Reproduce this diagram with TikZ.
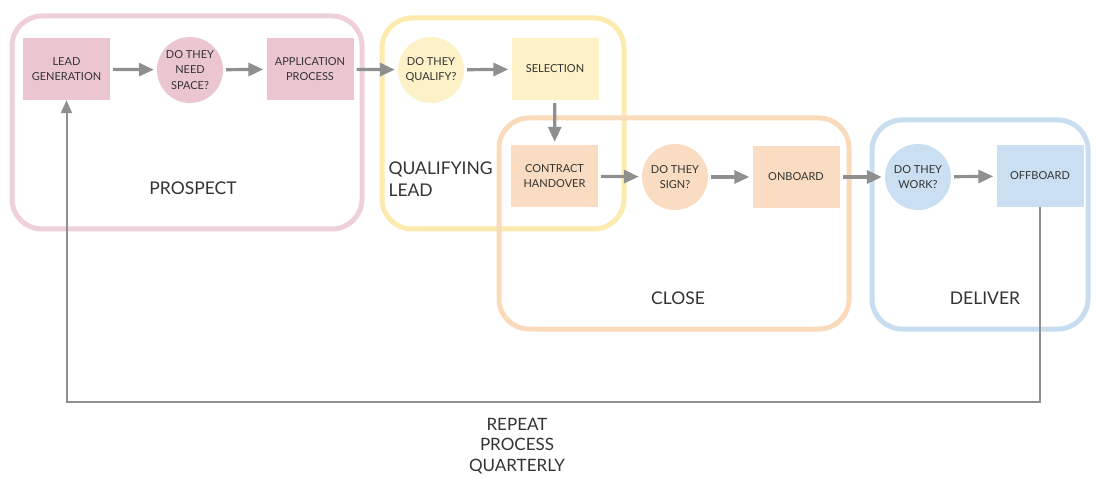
\documentclass[tikz,border=0pt]{standalone}
\usepackage{fontspec}
\setmainfont{Lato}
\usepackage{xcolor}
\usetikzlibrary{arrows.meta, positioning}
\definecolor{pinkfill}{HTML}{EBC6D1}
\definecolor{pinkline}{HTML}{EFD0D9}
\definecolor{yellowfill}{HTML}{FDF1C7}
\definecolor{yellowline}{HTML}{FCEAAE}
\definecolor{orangefill}{HTML}{F9DCC1}
\definecolor{orangeline}{HTML}{F9DABB}
\definecolor{bluefill}{HTML}{CADFF1}
\definecolor{blueline}{HTML}{C8DDF0}
\definecolor{arrowgray}{HTML}{8F8F8F}
\definecolor{textgray}{HTML}{333333}

\tikzset{
    stage/.style={rounded corners=30pt, line width=5pt},
    task/.style={rectangle, minimum width=87pt, minimum height=62pt,
        inner sep=1pt, align=center, text=textgray,
        font=\fontsize{11}{15.5}\selectfont},
    query/.style={circle, minimum size=66pt, inner sep=0pt, align=center,
        text=textgray, font=\fontsize{11}{15.5}\selectfont},
    phase/.style={text=textgray, font=\fontsize{17.5}{22}\selectfont},
    flow/.style={draw=arrowgray, line width=3.2pt, shorten <=3pt, shorten >=3pt,
        -{Triangle[length=15pt,width=13pt]}},
}

\begin{document}
\begin{tikzpicture}[x=1pt, y=-1pt]
\useasboundingbox (0,0) rectangle (1097,478);

% stages
\draw[stage, draw=pinkline] (12,16) rectangle (362,229);
\draw[stage, draw=yellowline] (382,18) rectangle (624,229);
\draw[stage, draw=orangeline] (499,118) rectangle (849,329);
\draw[stage, draw=blueline] (872,120) rectangle (1088,329);

\node[phase] at (193,188) {PROSPECT};
\node[phase, anchor=west, align=left] at (385,179) {QUALIFYING\\LEAD};
\node[phase] at (678,298) {CLOSE};
\node[phase] at (985,298) {DELIVER};

% steps
\node[task, fill=pinkfill] (leadgen) at (66.5,69) {LEAD\\GENERATION};
\node[query, fill=pinkfill] (needspace) at (190,70) {DO THEY\\NEED\\SPACE?};
\node[task, fill=pinkfill] (application) at (310,69) {APPLICATION\\PROCESS};
\node[query, fill=yellowfill] (qualify) at (431,70) {DO THEY\\QUALIFY?};
\node[task, fill=yellowfill] (selection) at (555,69) {SELECTION};
\node[task, fill=orangefill] (contract) at (554.5,176) {CONTRACT\\HANDOVER};
\node[query, fill=orangefill] (sign) at (675,177) {DO THEY\\SIGN?};
\node[task, fill=orangefill] (onboard) at (796,177) {ONBOARD};
\node[query, fill=bluefill] (work) at (918,177) {DO THEY\\WORK?};
\node[task, fill=bluefill] (offboard) at (1040,176) {OFFBOARD};

\foreach \a/\b in {leadgen/needspace, needspace/application,
    application/qualify, qualify/selection, selection/contract,
    contract/sign, sign/onboard, onboard/work, work/offboard}
    \draw[flow] (\a) -- (\b);

% loop back
\coordinate (loop) at (0,402);
\draw[draw=arrowgray, line width=2pt, -{Triangle[length=13pt,width=11pt]}]
    (offboard.south) -- (offboard.south |- loop) -| (leadgen.south);
\node[phase, align=center, font=\fontsize{17}{20.5}\selectfont] (repeat) at (517,446)
    {REPEAT\\PROCESS\\QUARTERLY};

\end{tikzpicture}
\end{document}
